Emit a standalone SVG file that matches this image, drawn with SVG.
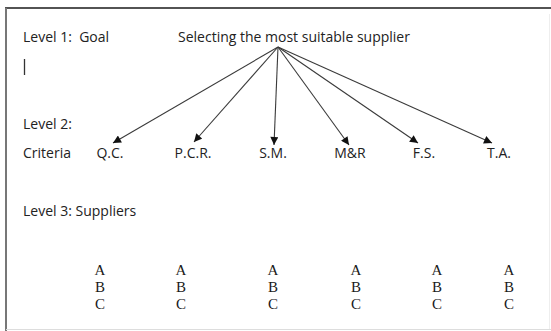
<svg xmlns="http://www.w3.org/2000/svg" width="551" height="331" viewBox="0 0 551 331">
<defs>
<style>
.s{font-family:"Open Sans","Noto Sans",sans-serif;font-size:14px;fill:#222;white-space:pre}
.r{font-family:"Liberation Serif","Times New Roman",serif;font-size:15px;fill:#1a1a1a;text-anchor:middle}
.c{font-family:"Open Sans","Noto Sans",sans-serif;font-size:14px;fill:#222;text-anchor:middle}
.e{stroke:#3a3a3a;stroke-width:1.1;fill:none;marker-end:url(#ah)}
</style>
<marker id="ah" viewBox="0 0 10 10" refX="10" refY="5" markerWidth="9" markerHeight="8" markerUnits="userSpaceOnUse" orient="auto">
<path d="M0,0 L10,5 L0,10 z" fill="#111"/>
</marker>
</defs>
<rect width="551" height="331" fill="#fff"/>
<g id="frame">
<line x1="5" y1="8" x2="551" y2="8" stroke="#1a1a1a" stroke-width="1.6"/>
<line x1="6" y1="8" x2="6" y2="331" stroke="#777" stroke-width="2"/>
<line x1="6" y1="329.5" x2="551" y2="329.5" stroke="#ddd" stroke-width="1"/>
<line x1="549.5" y1="14" x2="549.5" y2="329" stroke="#eee" stroke-width="1"/>
</g>
<g id="labels">
<text class="s" x="23" y="42" xml:space="preserve">Level 1:  Goal</text>
<line x1="24.5" y1="59" x2="24.5" y2="75" stroke="#333" stroke-width="1.3"/>
<text class="s" x="23" y="129">Level 2:</text>
<text class="s" x="23" y="158">Criteria</text>
<text class="s" x="23" y="216">Level 3: Suppliers</text>
</g>
<g id="goal"><text class="s" x="178" y="42">Selecting the most suitable supplier</text></g>
<g id="qc"><text class="c" x="110" y="158">Q.C.</text></g>
<g id="pcr"><text class="c" x="193" y="158">P.C.R.</text></g>
<g id="sm"><text class="c" x="273" y="158">S.M.</text></g>
<g id="mr"><text class="c" x="350" y="158">M&amp;R</text></g>
<g id="fs"><text class="c" x="424" y="158">F.S.</text></g>
<g id="ta"><text class="c" x="499" y="158">T.A.</text></g>
<g id="connectors">
<line class="e" x1="278" y1="47" x2="113" y2="143"/>
<line class="e" x1="278" y1="47" x2="194" y2="142"/>
<line class="e" x1="278" y1="47" x2="274" y2="145"/>
<line class="e" x1="278" y1="47" x2="349" y2="145"/>
<line class="e" x1="278" y1="47" x2="418" y2="143"/>
<line class="e" x1="278" y1="47" x2="492" y2="143"/>
</g>
<g id="suppliers">
<g id="s1"><text class="r" x="100" y="275">A</text><text class="r" x="100" y="292">B</text><text class="r" x="100" y="309">C</text></g>
<g id="s2"><text class="r" x="181" y="275">A</text><text class="r" x="181" y="292">B</text><text class="r" x="181" y="309">C</text></g>
<g id="s3"><text class="r" x="273" y="275">A</text><text class="r" x="273" y="292">B</text><text class="r" x="273" y="309">C</text></g>
<g id="s4"><text class="r" x="356" y="275">A</text><text class="r" x="356" y="292">B</text><text class="r" x="356" y="309">C</text></g>
<g id="s5"><text class="r" x="437" y="275">A</text><text class="r" x="437" y="292">B</text><text class="r" x="437" y="309">C</text></g>
<g id="s6"><text class="r" x="509" y="275">A</text><text class="r" x="509" y="292">B</text><text class="r" x="509" y="309">C</text></g>
</g>
</svg>
